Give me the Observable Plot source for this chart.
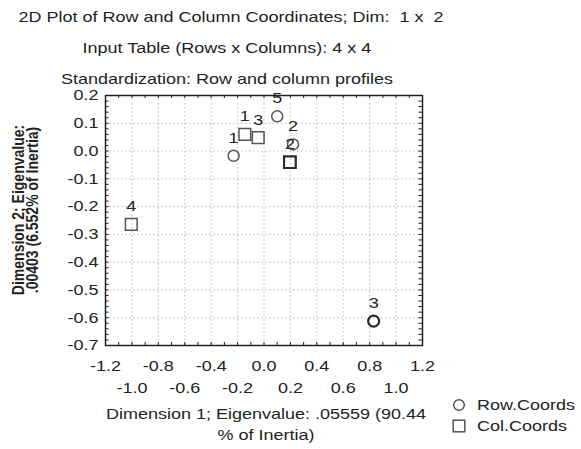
<!DOCTYPE html>
<html>
<head>
<meta charset="utf-8">
<script src="https://cdn.jsdelivr.net/npm/d3@7"></script>
<script src="https://cdn.jsdelivr.net/npm/@observablehq/plot@0.6"></script>
<style>
  html, body { margin: 0; padding: 0; background: #fff; }
  #chart { width: 581px; height: 449px; overflow: hidden; }
</style>
</head>
<body>
<div id="chart"></div>
<script>
// ---- Data ----
const rowLabels = ["1", "5", "2", "3"];
const rowDim1   = [-0.23, 0.10, 0.22, 0.83];
const rowDim2   = [-0.017, 0.125, 0.024, -0.612];

const colLabels = ["1", "3", "2", "4"];
const colDim1   = [-0.145, -0.044, 0.196, -1.005];
const colDim2   = [0.060, 0.048, -0.040, -0.264];

const xTicksRow1 = [-1.2, -0.8, -0.4, 0.0, 0.4, 0.8, 1.2];
const xTicksRow2 = [-1.0, -0.6, -0.2, 0.2, 0.6, 1.0];
const yTicks = [0.2, 0.1, 0.0, -0.1, -0.2, -0.3, -0.4, -0.5, -0.6, -0.7];

const titleLines = [
  "2D Plot of Row and Column Coordinates; Dim:  1 x  2",
  "Input Table (Rows x Columns): 4 x 4",
  "Standardization: Row and column profiles"
];
const xTitleLines = ["Dimension 1; Eigenvalue: .05559 (90.44", "% of Inertia)"];
const yTitleLines = ["Dimension 2; Eigenvalue:", ".00403 (6.552% of Inertia)"];
const legendLabels = ["Row.Coords", "Col.Coords"];

// ---- Build tables ----
const rows = rowLabels.map((l, i) => ({label: l, d1: rowDim1[i], d2: rowDim2[i]}));
const cols = colLabels.map((l, i) => ({label: l, d1: colDim1[i], d2: colDim2[i]}));

const fmt = d => (Math.abs(d) < 1e-9 ? 0 : d).toFixed(1);
const xGrid = d3.range(-10, 11, 2).map(v => v / 10);
const yGrid = d3.range(-6, 2, 1).map(v => v / 10);
const xMinor = d3.range(-11, 12, 1).map(v => v / 10);
const yMinor = d3.range(-34, 10, 1).map(v => v / 50);

const W = 581, H = 449;
const mL = 105, mR = 159, mT = 95, mB = 104;
const fw = W - mL - mR, fh = H - mT - mB;
const ink = "#222";
const markInk = "#555";
const strongInk = "#2a2a2a";

const chart = Plot.plot({
  width: W,
  height: H,
  marginLeft: mL,
  marginRight: mR,
  marginTop: mT,
  marginBottom: mB,
  style: {fontFamily: "'Liberation Sans', Arial, sans-serif", fontSize: "15px", color: ink, background: "#fff"},
  x: {domain: [-1.2, 1.2]},
  y: {domain: [-0.7, 0.2]},
  marks: [
    Plot.gridX(xGrid, {stroke: "#bbbbbb", strokeOpacity: 1, strokeDasharray: "1.5,2.5"}),
    Plot.gridY(yGrid, {stroke: "#bbbbbb", strokeOpacity: 1, strokeDasharray: "1.5,2.5"}),
    // inward frame ticks
    Plot.tickY(yMinor, {y: d => d, insetRight: fw - 3.5, stroke: ink, strokeWidth: 1}),
    Plot.tickY(yMinor, {y: d => d, insetLeft: fw - 3.5, stroke: ink, strokeWidth: 1}),
    Plot.tickX(xMinor, {x: d => d, insetBottom: fh - 3, stroke: ink, strokeWidth: 1}),
    Plot.tickX(xMinor, {x: d => d, insetTop: fh - 3, stroke: ink, strokeWidth: 1}),
    Plot.frame({stroke: ink, strokeWidth: 1.5}),
    Plot.axisY(yTicks, {tickSize: 0, tickPadding: 7, tickFormat: fmt, label: null, fill: ink}),
    Plot.axisX(xTicksRow1, {tickSize: 0, tickPadding: 15, tickFormat: fmt, label: null, fill: ink}),
    Plot.axisX(xTicksRow2, {tickSize: 0, tickPadding: 37, tickFormat: fmt, label: null, fill: ink}),
    Plot.dot(rows, {x: "d1", y: "d2", r: 5.5, fill: "none",
      stroke: d => d.label === "3" ? strongInk : markInk,
      strokeWidth: d => d.label === "3" ? 2.2 : 1.5}),
    Plot.dot(cols, {x: "d1", y: "d2", symbol: "square", r: 6.6, fill: "none",
      stroke: d => d.label === "2" ? strongInk : markInk,
      strokeWidth: d => d.label === "2" ? 2.2 : 1.5}),
    Plot.text(rows, {x: "d1", y: "d2", text: "label", dy: -18, fill: ink}),
    Plot.text(cols, {x: "d1", y: "d2", text: "label", dy: -18, fill: ink})
  ]
});

document.getElementById("chart").append(chart);

// ---- Titles, axis titles and legend (real text) ----
const svg = d3.select(chart);
const g = svg.append("g")
  .attr("font-family", "'Liberation Sans', Arial, sans-serif")
  .attr("font-size", 15)
  .attr("fill", ink);

const titleX = [231, 227, 227];
const titleY = [22, 53, 84];
titleLines.forEach((t, i) => {
  g.append("text").attr("x", titleX[i]).attr("y", titleY[i]).attr("text-anchor", "middle").text(t);
});

const xTitleY = [418.7, 439.7];
xTitleLines.forEach((t, i) => {
  g.append("text").attr("x", 266).attr("y", xTitleY[i]).attr("text-anchor", "middle").text(t);
});

const yTitleX = [24, 38];
yTitleLines.forEach((t, i) => {
  g.append("text")
    .attr("class", "norestretch")
    .attr("transform", `translate(${yTitleX[i]},210) scale(1.2,1) rotate(-90)`)
    .attr("text-anchor", "middle")
    .attr("font-weight", "bold")
    .attr("font-size", 14)
    .text(t);
});

// legend
const lg = g.append("g");
lg.append("circle").attr("cx", 459).attr("cy", 405).attr("r", 5.3)
  .attr("fill", "none").attr("stroke", markInk).attr("stroke-width", 1.5);
lg.append("rect").attr("x", 453.2).attr("y", 420.2).attr("width", 11.6).attr("height", 11.6)
  .attr("fill", "none").attr("stroke", markInk).attr("stroke-width", 1.5);
const legY = [410.4, 431.4];
legendLabels.forEach((t, i) => {
  lg.append("text").attr("x", 477).attr("y", legY[i]).attr("text-anchor", "start").text(t);
});

// The reference is horizontally stretched: widen every horizontal text run
chart.querySelectorAll("text").forEach(el => {
  if (el.classList.contains("norestretch")) return;
  if (el.querySelector("tspan")) {
    el.querySelectorAll("tspan").forEach(ts => {
      const len = ts.getComputedTextLength();
      if (len > 0) { ts.setAttribute("textLength", (len * 1.2).toFixed(1)); ts.setAttribute("lengthAdjust", "spacingAndGlyphs"); }
    });
  } else {
    const len = el.getComputedTextLength();
    if (len > 0) { el.setAttribute("textLength", (len * 1.2).toFixed(1)); el.setAttribute("lengthAdjust", "spacingAndGlyphs"); }
  }
});
</script>
</body>
</html>
